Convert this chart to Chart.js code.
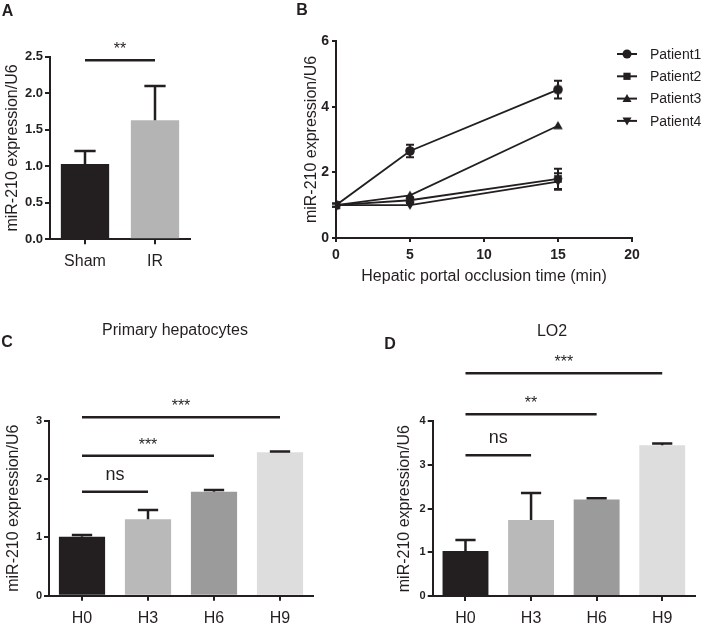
<!DOCTYPE html>
<html>
<head>
<meta charset="utf-8">
<script src="https://cdn.jsdelivr.net/npm/chart.js@4.4.0/dist/chart.umd.min.js"></script>
<style>
    html, body { margin: 0; padding: 0; background: #fff; }
    #fig { position: relative; width: 709px; height: 628px; overflow: hidden;
           font-family: 'Liberation Sans', Arial, sans-serif; color: #231f20; }
    #fig canvas { position: absolute; }
    .letter { position: absolute; font-weight: bold; font-size: 16px; line-height: 1; transform: translate(-50%, -50%); }
    .title { position: absolute; font-size: 16px; line-height: 1; white-space: nowrap; transform: translate(-50%, -50%); }
</style>
</head>
<body>
<div id="fig">
    <canvas id="chartA" width="240" height="290" style="left:0;top:0"></canvas>
    <canvas id="chartB" width="469" height="290" style="left:240px;top:0"></canvas>
    <canvas id="chartC" width="350" height="328" style="left:0;top:300px"></canvas>
    <canvas id="chartD" width="354" height="328" style="left:355px;top:300px"></canvas>
    <div class="letter" style="left:7.5px;top:11px">A</div>
    <div class="letter" style="left:302px;top:10px">B</div>
    <div class="letter" style="left:7px;top:342px">C</div>
    <div class="letter" style="left:390px;top:344px">D</div>
    <div class="title" style="left:175px;top:330px">Primary hepatocytes</div>
    <div class="title" style="left:552px;top:331px">LO2</div>
</div>
<script>
// Panel A: sham vs IR
const shamIrLabels = ['Sham', 'IR'];
const shamIrMeans = [1.03, 1.63];
const shamIrErrors = [0.18, 0.47];
const shamIrTicks = [0, 0.5, 1.0, 1.5, 2.0, 2.5];
const shamIrSig = [{ from: 0, to: 1, y: 2.45, text: '**' }];

// Panel B: patients over occlusion time
const occlusionTimes = [0, 5, 15];
const occlusionTicks = [0, 5, 10, 15, 20];
const patientTicks = [0, 2, 4, 6];
const patientNames = ['Patient1', 'Patient2', 'Patient3', 'Patient4'];
const patient1 = [1.0, 2.65, 4.52];
const patient2 = [1.0, 1.15, 1.80];
const patient3 = [1.0, 1.30, 3.42];
const patient4 = [1.0, 1.00, 1.72];
const patient1Err = [0.05, 0.19, 0.27];
const patient2Err = [0.05, 0.08, 0.31];
const patient3Err = [0, 0, 0];
const patient4Err = [0, 0, 0.25];
const patientMarkers = ['circle', 'rect', 'triangle', 'triangleDown'];

// Panels C and D: hypoxia time course
const hypoxiaLabels = ['H0', 'H3', 'H6', 'H9'];
const hepatocyteMeans = [1.01, 1.31, 1.78, 2.46];
const hepatocyteErrors = [0.03, 0.16, 0.03, 0.01];
const hepatocyteTicks = [0, 1, 2, 3];
const hepatocyteSig = [
    { from: 0, to: 1, y: 1.78, text: 'ns' },
    { from: 0, to: 2, y: 2.40, text: '***' },
    { from: 0, to: 3, y: 3.06, text: '***' }
];
const lo2Means = [1.03, 1.74, 2.21, 3.45];
const lo2Errors = [0.25, 0.62, 0.03, 0.04];
const lo2Ticks = [0, 1, 2, 3, 4];
const lo2Sig = [
    { from: 0, to: 1, y: 3.22, text: 'ns' },
    { from: 0, to: 2, y: 4.16, text: '**' },
    { from: 0, to: 3, y: 5.10, text: '***' }
];

const ink = '#231f20';
const barGreys = ['#231f20', '#b9b9b9', '#9b9b9b', '#dddddd'];
const fontFamily = "'Liberation Sans', Arial, sans-serif";

function drawMarker(ctx, style, x, y, r) {
    ctx.beginPath();
    if (style === 'circle') {
        ctx.arc(x, y, r, 0, Math.PI * 2);
    } else if (style === 'rect') {
        const s = r * 0.8;
        ctx.rect(x - s, y - s, 2 * s, 2 * s);
    } else if (style === 'triangle') {
        ctx.moveTo(x, y - r);
        ctx.lineTo(x + r, y + r * 0.75);
        ctx.lineTo(x - r, y + r * 0.75);
        ctx.closePath();
    } else {
        ctx.moveTo(x, y + r);
        ctx.lineTo(x + r, y - r * 0.75);
        ctx.lineTo(x - r, y - r * 0.75);
        ctx.closePath();
    }
    ctx.fill();
}

// error bars (bars: upper only, lines: both ways)
const errorBarPlugin = {
    id: 'errorBars',
    afterDatasetsDraw(chart) {
        const { ctx } = chart;
        const yScale = chart.scales.y;
        ctx.save();
        ctx.strokeStyle = ink;
        chart.data.datasets.forEach((ds, i) => {
            if (!ds.errors) return;
            const meta = chart.getDatasetMeta(i);
            const isBar = meta.type === 'bar';
            meta.data.forEach((el, j) => {
                const err = ds.errors[j];
                if (!err) return;
                const raw = ds.data[j];
                const v = typeof raw === 'object' ? raw.y : raw;
                const top = yScale.getPixelForValue(v + err);
                const bottom = isBar ? el.y : yScale.getPixelForValue(v - err);
                const cap = isBar ? el.width * 0.22 : 4;
                ctx.lineWidth = isBar ? 2.5 : 2;
                ctx.beginPath();
                ctx.moveTo(el.x, bottom);
                ctx.lineTo(el.x, top);
                ctx.moveTo(el.x - cap, top);
                ctx.lineTo(el.x + cap, top);
                if (!isBar) {
                    ctx.moveTo(el.x - cap, bottom);
                    ctx.lineTo(el.x + cap, bottom);
                }
                ctx.stroke();
            });
        });
        ctx.restore();
    }
};

function sigPlugin(marks) {
    return {
        id: 'sigMarks',
        afterDraw(chart) {
            const { ctx } = chart;
            const xs = chart.scales.x, ys = chart.scales.y;
            ctx.save();
            ctx.strokeStyle = ink;
            ctx.fillStyle = ink;
            ctx.lineWidth = 2.5;
            ctx.textAlign = 'center';
            ctx.textBaseline = 'alphabetic';
            marks.forEach(m => {
                const x0 = xs.getPixelForValue(m.from);
                const x1 = xs.getPixelForValue(m.to);
                const py = ys.getPixelForValue(m.y);
                ctx.beginPath();
                ctx.moveTo(x0, py);
                ctx.lineTo(x1, py);
                ctx.stroke();
                if (m.text === 'ns') {
                    ctx.font = '18px ' + fontFamily;
                    ctx.fillText(m.text, (x0 + x1) / 2, py - 12);
                } else {
                    ctx.font = '16px ' + fontFamily;
                    ctx.fillText(m.text, (x0 + x1) / 2, py - 6);
                }
            });
            ctx.restore();
        }
    };
}

const patientLegendPlugin = {
    id: 'patientLegend',
    afterDraw(chart) {
        const { ctx, chartArea } = chart;
        ctx.save();
        ctx.fillStyle = ink;
        ctx.strokeStyle = ink;
        ctx.lineWidth = 2;
        ctx.font = '14px ' + fontFamily;
        ctx.textBaseline = 'middle';
        ctx.textAlign = 'left';
        chart.data.datasets.forEach((ds, i) => {
            const y = chartArea.top + 13 + i * 22.3;
            const xl = chartArea.right - 15;
            const xr = chartArea.right + 5;
            ctx.beginPath();
            ctx.moveTo(xl, y);
            ctx.lineTo(xr, y);
            ctx.stroke();
            drawMarker(ctx, patientMarkers[i], (xl + xr) / 2, y, 4.5);
            ctx.fillText(ds.label, chartArea.right + 18, y + 1);
        });
        ctx.restore();
    }
};

// custom point style images so legend and points match
function markerCanvas(style) {
    const c = document.createElement('canvas');
    c.width = 12; c.height = 12;
    const g = c.getContext('2d');
    g.fillStyle = ink;
    drawMarker(g, style, 6, 6, 4.8);
    return c;
}

function axisCommon(tickFont, tickPad, tickLen) {
    return {
        grid: { display: true, drawOnChartArea: false, offset: false, tickLength: tickLen, color: ink, lineWidth: 2 },
        border: { display: true, color: ink, width: 2 },
        ticks: { color: ink, font: tickFont, padding: tickPad }
    };
}

function barChart(canvasId, labels, means, errors, tickList, sig, geom) {
    const ctx = document.getElementById(canvasId);
    if (!ctx) {
        console.error(canvasId + ' not found');
        return;
    }
    const xAxis = axisCommon({ size: 16 }, 8, 5);
    xAxis.afterFit = s => { s.height = geom.xHeight; };
    const yAxis = axisCommon({ size: geom.yTickSize, weight: 'bold' }, 2, 5);
    yAxis.min = 0;
    yAxis.max = tickList[tickList.length - 1];
    yAxis.afterBuildTicks = s => { s.ticks = tickList.map(v => ({ value: v })); };
    yAxis.ticks.callback = v => geom.decimals ? v.toFixed(1) : String(v);
    yAxis.title = { display: true, text: 'miR-210 expression/U6', color: ink, font: { size: 16 }, padding: { top: geom.titlePad, bottom: 0 } };
    yAxis.afterFit = s => { s.width = geom.yWidth; };

    new Chart(ctx.getContext('2d'), {
        type: 'bar',
        data: {
            labels: labels,
            datasets: [{
                data: means,
                errors: errors,
                backgroundColor: geom.colors,
                borderWidth: 0,
                barPercentage: geom.barPct,
                categoryPercentage: 1
            }]
        },
        options: {
            responsive: false,
            animation: false,
            layout: { padding: { left: 0, top: geom.top, right: geom.right, bottom: 0 } },
            plugins: { legend: { display: false }, tooltip: { enabled: false } },
            scales: { x: xAxis, y: yAxis }
        },
        plugins: [errorBarPlugin, sigPlugin(sig)]
    });
}

document.addEventListener('DOMContentLoaded', function() {
    if (typeof Chart === 'undefined') {
        console.error('Chart.js is not loaded!');
        return;
    }
    Chart.defaults.font.family = fontFamily;
    Chart.defaults.color = ink;

    try {
        // A
        barChart('chartA', shamIrLabels, shamIrMeans, shamIrErrors, shamIrTicks, shamIrSig, {
            top: 56.7, right: 50, xHeight: 50.7, yWidth: 50, titlePad: 3, yTickSize: 13,
            decimals: true, barPct: 0.69, colors: [barGreys[0], '#b4b4b4']
        });

        // B
        const bCtx = document.getElementById('chartB');
        const series = [patient1, patient2, patient3, patient4];
        const seriesErr = [patient1Err, patient2Err, patient3Err, patient4Err];
        const xB = axisCommon({ size: 14, weight: 'bold' }, 5, 4);
        xB.type = 'linear';
        xB.min = 0;
        xB.max = occlusionTicks[occlusionTicks.length - 1];
        xB.afterBuildTicks = s => { s.ticks = occlusionTicks.map(v => ({ value: v })); };
        xB.title = { display: true, text: 'Hepatic portal occlusion time (min)', color: ink, font: { size: 16 }, padding: { top: 0, bottom: 4 } };
        xB.afterFit = s => { s.height = 52; };
        const yB = axisCommon({ size: 14, weight: 'bold' }, 3, 4);
        yB.min = 0;
        yB.max = patientTicks[patientTicks.length - 1];
        yB.afterBuildTicks = s => { s.ticks = patientTicks.map(v => ({ value: v })); };
        yB.title = { display: true, text: 'miR-210 expression/U6', color: ink, font: { size: 16 }, padding: { top: 62, bottom: 0 } };
        yB.afterFit = s => { s.width = 96; };

        new Chart(bCtx.getContext('2d'), {
            type: 'line',
            data: {
                datasets: series.map((vals, i) => ({
                    label: patientNames[i],
                    data: vals.map((v, j) => ({ x: occlusionTimes[j], y: v })),
                    errors: seriesErr[i],
                    borderColor: ink,
                    borderWidth: 1.8,
                    pointStyle: markerCanvas(patientMarkers[i]),
                    pointRadius: 5,
                    tension: 0,
                    fill: false
                }))
            },
            options: {
                responsive: false,
                animation: false,
                layout: { padding: { left: 0, top: 41, right: 77, bottom: 0 } },
                plugins: { legend: { display: false }, tooltip: { enabled: false } },
                scales: { x: xB, y: yB }
            },
            plugins: [errorBarPlugin, patientLegendPlugin]
        });

        // C
        barChart('chartC', hypoxiaLabels, hepatocyteMeans, hepatocyteErrors, hepatocyteTicks, hepatocyteSig, {
            top: 120.7, right: 37, xHeight: 32.3, yWidth: 49, titlePad: 3.7, yTickSize: 11,
            decimals: false, barPct: 0.7, colors: barGreys
        });

        // D
        barChart('chartD', hypoxiaLabels, lo2Means, lo2Errors, lo2Ticks, lo2Sig, {
            top: 121.3, right: 14, xHeight: 32, yWidth: 77.7, titlePad: 40.4, yTickSize: 11,
            decimals: false, barPct: 0.7, colors: barGreys
        });
    } catch (error) {
        console.error('Error initializing charts:', error);
    }
});
</script>
</body>
</html>
